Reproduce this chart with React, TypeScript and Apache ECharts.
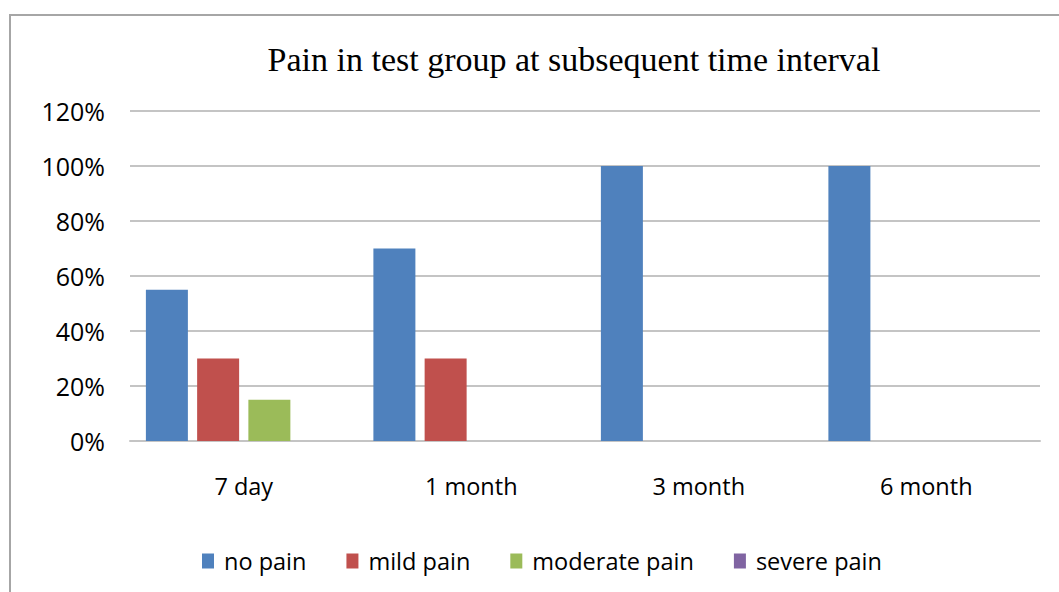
import React, { useEffect, useRef } from "react";
import * as echarts from "echarts";

const categories = ["7 day", "1 month", "3 month", "6 month"];
const noPain = [55, 70, 100, 100];
const mildPain = [30, 30, 0, 0];
const moderatePain = [15, 0, 0, 0];
const severePain = [0, 0, 0, 0];
const seriesNames = ["no pain", "mild pain", "moderate pain", "severe pain"];
const colors = ["#4F81BD", "#C0504D", "#9BBB59", "#8064A2"];

export default function App() {
  const ref = useRef<HTMLDivElement>(null);
  useEffect(() => {
    if (!ref.current) return;
    const chart = echarts.init(ref.current, null, { renderer: "svg" });
    const labelFont = "'Open Sans', sans-serif";
    const data = [noPain, mildPain, moderatePain, severePain];
    chart.setOption({
      animation: false,
      backgroundColor: "#ffffff",
      color: colors,
      graphic: [
        {
          type: "rect",
          shape: { x: 10, y: 15, width: 1070, height: 600 },
          style: { fill: "none", stroke: "#a6a6a6", lineWidth: 2 },
          silent: true,
        },
        {
          type: "text",
          x: 574,
          y: 59,
          style: {
            text: "Pain in test group at subsequent time interval",
            fontFamily: "'Liberation Serif', serif",
            fontSize: 34,
            fill: "#000000",
            align: "center",
            verticalAlign: "middle",
          },
          silent: true,
        },
      ],
      legend: {
        left: 197,
        top: 544,
        itemWidth: 12,
        itemHeight: 15,
        itemGap: 40,
        icon: "rect",
        textStyle: { fontFamily: labelFont, fontSize: 23.5, color: "#000000", padding: [0, 0, 0, 5] },
        data: seriesNames,
      },
      grid: { left: 130, right: 19, top: 111, bottom: 151, containLabel: false },
      xAxis: {
        type: "category",
        data: categories,
        axisTick: { show: false },
        axisLine: { lineStyle: { color: "#c4c4c4", width: 2 } },
        axisLabel: { fontFamily: labelFont, fontSize: 23.5, color: "#000000", margin: 33 },
      },
      yAxis: {
        type: "value",
        min: 0,
        max: 120,
        interval: 20,
        axisLine: { show: false },
        axisTick: { show: false },
        splitLine: { lineStyle: { color: "#c4c4c4", width: 2 } },
        axisLabel: {
          fontFamily: labelFont,
          fontSize: 25,
          color: "#000000",
          margin: 25,
          formatter: "{value}%",
        },
      },
      series: seriesNames.map((name, i) => ({
        name,
        type: "bar",
        data: data[i],
        barWidth: 42,
        barGap: "22%",
      })),
    });
    return () => chart.dispose();
  }, []);
  return (
    <div
      ref={ref}
      style={{ position: "absolute", left: 0, top: 0, width: 1059, height: 592 }}
    />
  );
}
